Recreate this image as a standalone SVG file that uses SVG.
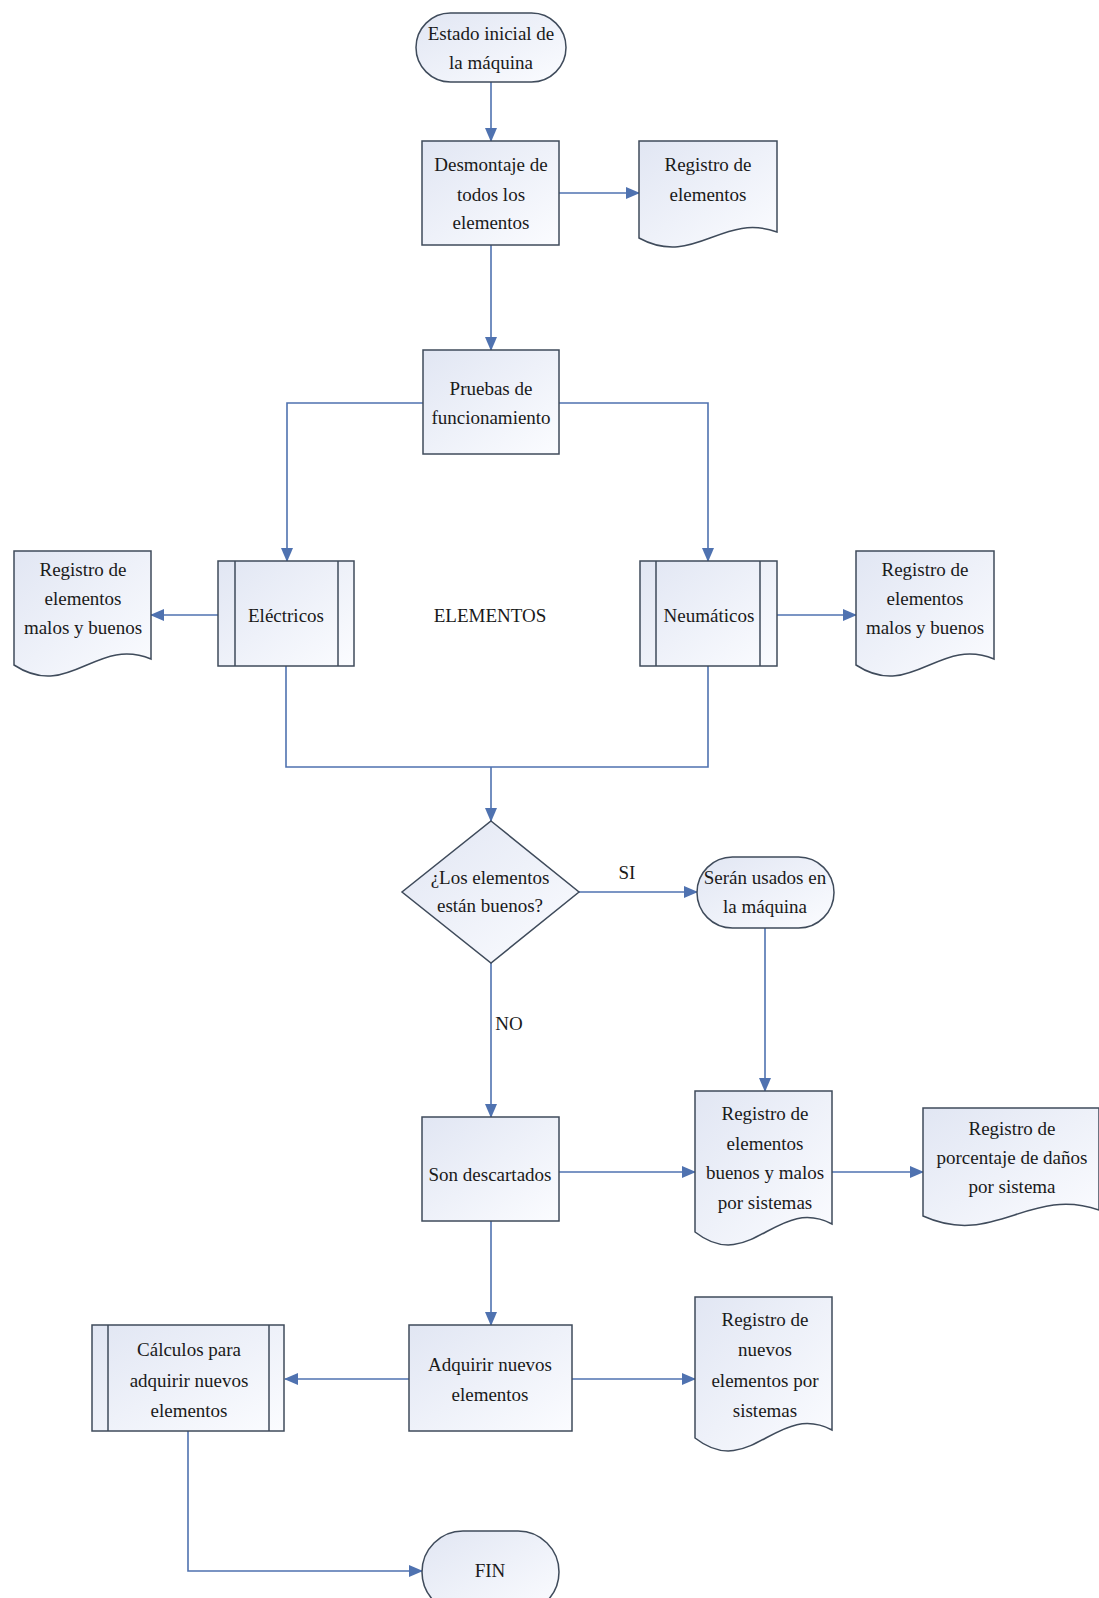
<svg xmlns="http://www.w3.org/2000/svg" width="1099" height="1598" viewBox="0 0 1099 1598">
<style>
.s{fill:url(#g);stroke:#3f4b5b;stroke-width:1.5}
.l{fill:none;stroke:#3f4b5b;stroke-width:1.5}
.c{fill:none;stroke:#4f72b0;stroke-width:1.6}
text{font-family:"Liberation Serif","Times New Roman",serif;font-size:19px;fill:#1a1a1a;text-anchor:middle;dominant-baseline:central}
</style>
<defs>
<linearGradient id="g" x1="0" y1="0" x2="1" y2="1">
<stop offset="0" stop-color="#e1e6f3"/>
<stop offset="1" stop-color="#fbfcff"/>
</linearGradient>
<marker id="a" viewBox="0 0 14 12" refX="13" refY="6" markerWidth="14" markerHeight="12" markerUnits="userSpaceOnUse" orient="auto">
<path d="M0,0 L14,6 L0,12 Z" fill="#4f72b0"/>
</marker>
</defs>
<rect width="1099" height="1598" fill="#ffffff"/>
<g id="connectors">
<path class="c" d="M491,82 V141" marker-end="url(#a)"/>
<path class="c" d="M559,193 H639" marker-end="url(#a)"/>
<path class="c" d="M491,245 V350" marker-end="url(#a)"/>
<path class="c" d="M423,403 H287 V561" marker-end="url(#a)"/>
<path class="c" d="M559,403 H708 V561" marker-end="url(#a)"/>
<path class="c" d="M218,615 H151" marker-end="url(#a)"/>
<path class="c" d="M777,615 H856" marker-end="url(#a)"/>
<path class="c" d="M286,666 V767 H708 V666"/>
<path class="c" d="M491,767 V821" marker-end="url(#a)"/>
<path class="c" d="M579,892 H697" marker-end="url(#a)"/>
<path class="c" d="M491,963 V1117" marker-end="url(#a)"/>
<path class="c" d="M765,928 V1091" marker-end="url(#a)"/>
<path class="c" d="M559,1172 H695" marker-end="url(#a)"/>
<path class="c" d="M832,1172 H923" marker-end="url(#a)"/>
<path class="c" d="M491,1221 V1325" marker-end="url(#a)"/>
<path class="c" d="M409,1379 H285" marker-end="url(#a)"/>
<path class="c" d="M572,1379 H695" marker-end="url(#a)"/>
<path class="c" d="M188,1431 V1571 H422" marker-end="url(#a)"/>
</g>
<g id="n_start">
<rect class="s" x="416" y="13" width="150" height="69" rx="34.5"/>
<text x="491" y="33">Estado inicial de</text>
<text x="491" y="62">la máquina</text>
</g>
<g id="n_desmontaje">
<rect class="s" x="422" y="141" width="137" height="104"/>
<text x="491" y="164">Desmontaje de</text>
<text x="491" y="194">todos los</text>
<text x="491" y="222">elementos</text>
</g>
<g id="n_reg1">
<path class="s" d="M639,141 H777 V232 C722,212 694,268 639,238 Z"/>
<text x="708" y="164">Registro de</text>
<text x="708" y="194">elementos</text>
</g>
<g id="n_pruebas">
<rect class="s" x="423" y="350" width="136" height="104"/>
<text x="491" y="388">Pruebas de</text>
<text x="491" y="417">funcionamiento</text>
</g>
<g id="n_electricos">
<rect class="s" x="218" y="561" width="136" height="105"/>
<path class="l" d="M235,561 V666 M338,561 V666"/>
<text x="286" y="615">Eléctricos</text>
</g>
<g id="n_reg_left">
<path class="s" d="M14,551 H151 V659 C96,636 69,701 14,665 Z"/>
<text x="83" y="569">Registro de</text>
<text x="83" y="598">elementos</text>
<text x="83" y="627">malos y buenos</text>
</g>
<g id="t_elementos">
<text x="490" y="615">ELEMENTOS</text>
</g>
<g id="n_neumaticos">
<rect class="s" x="640" y="561" width="137" height="105"/>
<path class="l" d="M656,561 V666 M760,561 V666"/>
<text x="709" y="615">Neumáticos</text>
</g>
<g id="n_reg_right">
<path class="s" d="M856,551 H994 V659 C939,636 911,701 856,665 Z"/>
<text x="925" y="569">Registro de</text>
<text x="925" y="598">elementos</text>
<text x="925" y="627">malos y buenos</text>
</g>
<g id="n_decision">
<path class="s" d="M491,821 L579,892 L491,963 L402,892 Z"/>
<text x="490" y="877">¿Los elementos</text>
<text x="490" y="905">están buenos?</text>
</g>
<g id="t_si"><text x="627" y="872">SI</text></g>
<g id="n_seran">
<rect class="s" x="697" y="857" width="137" height="71" rx="35.5"/>
<text x="765" y="877">Serán usados en</text>
<text x="765" y="906">la máquina</text>
</g>
<g id="t_no"><text x="509" y="1023">NO</text></g>
<g id="n_descartados">
<rect class="s" x="422" y="1117" width="137" height="104"/>
<text x="490" y="1174">Son descartados</text>
</g>
<g id="n_reg_buenos">
<path class="s" d="M695,1091 H832 V1224 C777,1195 750,1275 695,1232 Z"/>
<text x="765" y="1113">Registro de</text>
<text x="765" y="1143">elementos</text>
<text x="765" y="1172">buenos y malos</text>
<text x="765" y="1202">por sistemas</text>
</g>
<g id="n_reg_porcentaje">
<path class="s" d="M923,1108 H1099 V1210 C1029,1186 994,1248 923,1216 Z"/>
<text x="1012" y="1128">Registro de</text>
<text x="1012" y="1157">porcentaje de daños</text>
<text x="1012" y="1186">por sistema</text>
</g>
<g id="n_adquirir">
<rect class="s" x="409" y="1325" width="163" height="106"/>
<text x="490" y="1364">Adquirir nuevos</text>
<text x="490" y="1394">elementos</text>
</g>
<g id="n_calculos">
<rect class="s" x="92" y="1325" width="192" height="106"/>
<path class="l" d="M108,1325 V1431 M269,1325 V1431"/>
<text x="189" y="1349">Cálculos para</text>
<text x="189" y="1380">adquirir nuevos</text>
<text x="189" y="1410">elementos</text>
</g>
<g id="n_reg_nuevos">
<path class="s" d="M695,1297 H832 V1430 C777,1401 750,1481 695,1438 Z"/>
<text x="765" y="1319">Registro de</text>
<text x="765" y="1349">nuevos</text>
<text x="765" y="1380">elementos por</text>
<text x="765" y="1410">sistemas</text>
</g>
<g id="n_fin">
<rect class="s" x="422" y="1531" width="137" height="82" rx="41"/>
<text x="490" y="1570">FIN</text>
</g>
</svg>
